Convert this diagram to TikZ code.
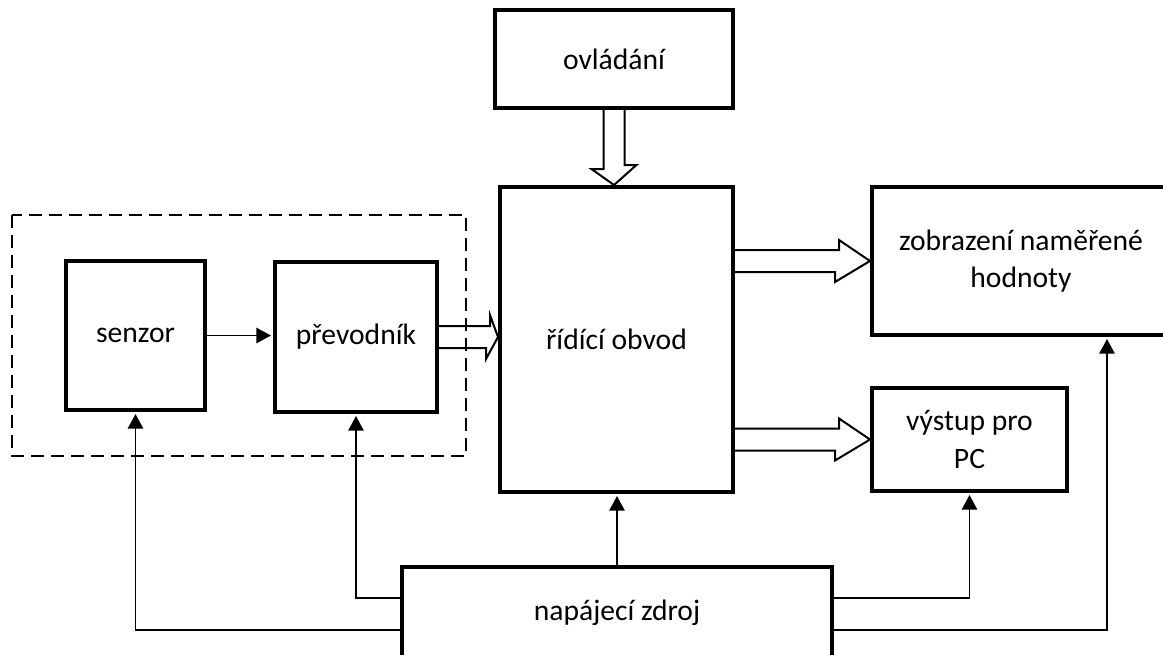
\documentclass[tikz,border=0pt]{standalone}
\usepackage{fontspec}
\setmainfont{Carlito}
\usetikzlibrary{arrows.meta}

\begin{document}
\begin{tikzpicture}[x=0.75pt,y=0.75pt,yscale=-1,xscale=1,
  blok/.style={draw, line width=3pt, inner sep=0pt, align=center, font=\fontsize{22.2}{28}\selectfont},
  sipka/.style={line width=1.4pt, -{Triangle[length=11pt,width=11.5pt]}, shorten >=1.5pt},
  dutasipka/.style={line width=1.5pt, line join=miter},
  ramecek/.style={line width=1.4pt, dash pattern=on 10pt off 5pt}]
\useasboundingbox (0,0) rectangle (1163,654);
\clip (0,0) rectangle (1163,654);

%Shape: Rectangle (dashed frame)
\draw[ramecek] (12,215) rectangle (466,456);

% Text Node
\node[blok, minimum width=178.5pt, minimum height=73.5pt] (ovladani) at (614,59) {ovládání};
% Text Node
\node[blok, minimum width=104.25pt, minimum height=111.75pt] (senzor) at (135.5,335.5) {senzor};
% Text Node
\node[blok, minimum width=121.5pt, minimum height=112.5pt] (prevodnik) at (356,337) {převodník};
% Text Node
\node[blok, minimum width=174.75pt, minimum height=228.75pt] (ridici) at (616.5,339.5) {řídící obvod};
% Text Node
\node[blok, minimum width=223.5pt, minimum height=111pt] (zobrazeni) at (1021,261) {zobrazení naměřené\\hodnoty};
% Text Node
\node[blok, minimum width=146.25pt, minimum height=77.25pt] (vystup) at (969.5,439.5) {výstup pro\\PC};
% Text Node
\node[blok, minimum width=322.5pt, minimum height=69pt] (napajeci) at (617,613) {napájecí zdroj};

%Shape: Hollow Arrows
\draw[dutasipka] (ovladani.south) ++(-10.5,0) -- ++(0,59) -- ++(-12,0) -- (ovladani.south |- ridici.north) -- ++(22.5,-20) -- ++(-12,0) -- ++(0,-59);
\draw[dutasipka] (prevodnik.east) ++(0,-11) -- ++(51,0) -- ++(0,-11) -- (prevodnik.east -| ridici.west) -- ++(-12,22) -- ++(0,-11) -- ++(-51,0);
\draw[dutasipka] (zobrazeni.west -| ridici.east) ++(0,-11) -- ++(104,0) -- ++(0,-10) -- (zobrazeni.west) -- ++(-35,21) -- ++(0,-10) -- ++(-104,0);
\draw[dutasipka] (vystup.west -| ridici.east) ++(0,-11) -- ++(104,0) -- ++(0,-10) -- (vystup.west) -- ++(-35,21) -- ++(0,-10) -- ++(-104,0);

%Straight Lines
\draw[sipka] (senzor.east) -- (senzor.east -| prevodnik.west);
\draw[sipka] (napajeci.north) -- (napajeci.north |- ridici.south);
\draw[sipka] (napajeci.west) ++(0,-15) -| (prevodnik.south);
\draw[sipka] (napajeci.west) ++(0,17) -| (senzor.south);
\draw[sipka] (napajeci.east) ++(0,-15) -| (vystup.south);
\draw[sipka] (napajeci.east) ++(0,17) -| ([shift={(86,0)}]zobrazeni.south);

\end{tikzpicture}
\end{document}
